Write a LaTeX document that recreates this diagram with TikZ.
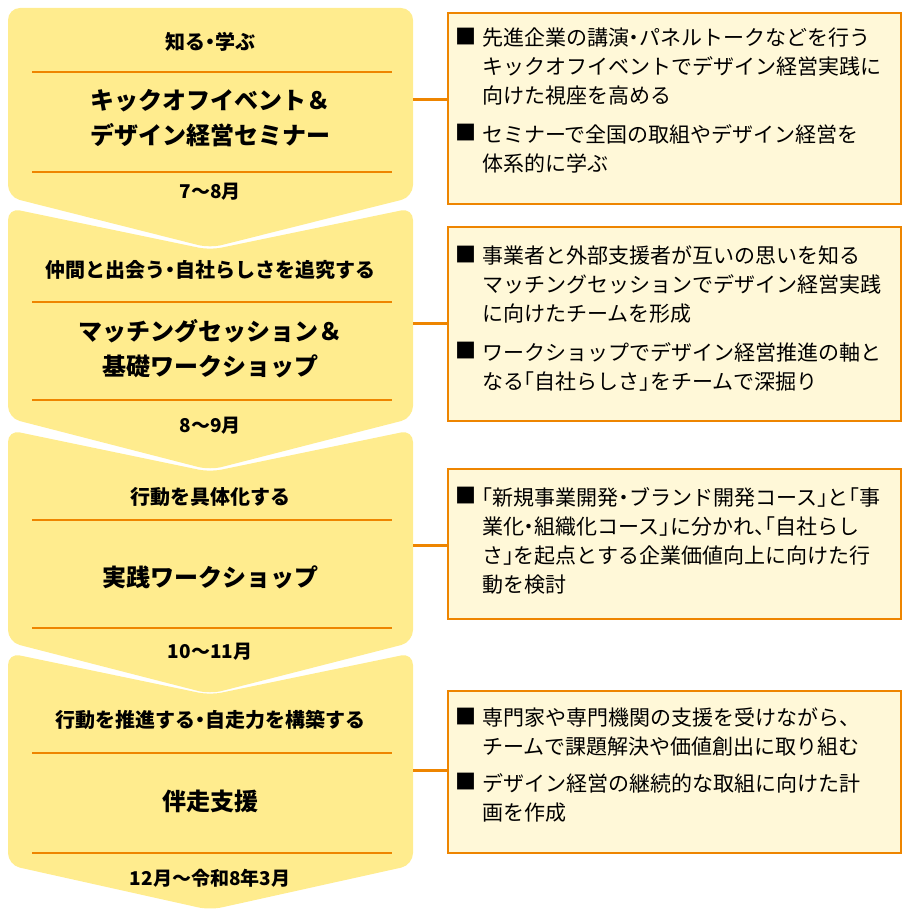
\documentclass[tikz,border=0pt]{standalone}
\usepackage{fontspec}
\setmainfont{Noto Sans CJK JP}[RawFeature=+halt]
\definecolor{yel}{HTML}{FFEC8E}
\definecolor{org}{HTML}{EE8500}
\definecolor{pale}{HTML}{FFF8D8}
\begin{document}
\begin{tikzpicture}[x=1pt,y=-1pt,
  shp/.style={fill=yel,rounded corners=12pt},
  sep/.style={org,line width=2.2pt},
  hd/.style={font=\bfseries\fontsize{20}{22}\selectfont,anchor=center},
  ttl/.style={font=\bfseries\fontsize{24}{35}\selectfont,align=center,anchor=center},
  dt/.style={font=\bfseries\fontsize{19}{22}\selectfont,anchor=center},
  rbox/.style={draw=org,line width=2pt,fill=pale},
  bul/.style={font=\fontsize{21}{29}\selectfont,anchor=north west,inner sep=0pt},
  btx/.style={font=\fontsize{21}{29}\selectfont,anchor=north west,align=left,inner sep=0pt},
  conn/.style={org,line width=3pt}]
\useasboundingbox (0,0) rectangle (910,920);
% shapes
\fill[shp] (8,8)--(413,8)--(413,197)--(210,248)--(8,197)--cycle;
\fill[shp] (8,208)--(210,250)--(413,208)--(413,418)--(210,470)--(8,418)--cycle;
\fill[shp] (8,430)--(210,472)--(413,430)--(413,642)--(210,694)--(8,642)--cycle;
\fill[shp] (8,653)--(210,695)--(413,653)--(413,865)--(210,910)--(8,865)--cycle;
\coordinate (s1) at (413,100);
\coordinate (s2) at (413,323);
\coordinate (s3) at (413,545);
\coordinate (s4) at (413,770);
% separators
\foreach \yy in {72,172,302,400,520,628,753,853}{\draw[sep] (32,\yy)--(392,\yy);}
% texts
\node[hd] (h1) at (210,42) {知る・学ぶ};
\node[ttl] (t1) at (210,118) {キックオフイベント＆\\デザイン経営セミナー};
\node[dt] (d1) at (210,192) {7〜8月};
\node[hd] (h2) at (210,270) {仲間と出会う・自社らしさを追究する};
\node[ttl] (t2) at (210,349) {マッチングセッション＆\\基礎ワークショップ};
\node[dt] (d2) at (210,426) {8〜9月};
\node[hd] (h3) at (210,497) {行動を具体化する};
\node[ttl] (t3) at (210,577) {実践ワークショップ};
\node[dt] (d3) at (210,652) {10〜11月};
\node[hd] (h4) at (210,720) {行動を推進する・自走力を構築する};
\node[ttl] (t4) at (210,801) {伴走支援};
\node[dt] (d4) at (210,878) {12月〜令和8年3月};
% right boxes
\node[rbox,minimum width=453pt,minimum height=191pt,anchor=north west] (b1) at (447,12) {};
\node[rbox,minimum width=453pt,minimum height=194pt,anchor=north west] (b2) at (447,226) {};
\node[rbox,minimum width=453pt,minimum height=150pt,anchor=north west] (b3) at (447,468) {};
\node[rbox,minimum width=453pt,minimum height=162pt,anchor=north west] (b4) at (447,690) {};
\draw[conn] (s1)--(b1.west|-s1);
\draw[conn] (s2)--(b2.west|-s2);
\draw[conn] (s3)--(b3.west|-s3);
\draw[conn] (s4)--(b4.west|-s4);
% bullets
\node[bul] (m1) at (455,28) {■};
\node[btx] (x1) at (482,28) {先進企業の講演・パネルトークなどを行う\\キックオフイベントでデザイン経営実践に\\向けた視座を高める};
\node[bul] (m2) at (455,124) {■};
\node[btx] (x2) at (482,124) {セミナーで全国の取組やデザイン経営を\\体系的に学ぶ};
\node[bul] (m3) at (455,246) {■};
\node[btx] (x3) at (482,246) {事業者と外部支援者が互いの思いを知る\\マッチングセッションでデザイン経営実践\\に向けたチームを形成};
\node[bul] (m4) at (455,342) {■};
\node[btx] (x4) at (482,342) {ワークショップでデザイン経営推進の軸と\\なる「自社らしさ」をチームで深掘り};
\node[bul] (m5) at (455,487) {■};
\node[btx] (x5) at (482,487) {「新規事業開発・ブランド開発コース」と「事\\業化・組織化コース」に分かれ、「自社らし\\さ」を起点とする企業価値向上に向けた行\\動を検討};
\node[bul] (m6) at (455,708) {■};
\node[btx] (x6) at (482,708) {専門家や専門機関の支援を受けながら、\\チームで課題解決や価値創出に取り組む};
\node[bul] (m7) at (455,773) {■};
\node[btx] (x7) at (482,773) {デザイン経営の継続的な取組に向けた計\\画を作成};
\end{tikzpicture}
\end{document}
